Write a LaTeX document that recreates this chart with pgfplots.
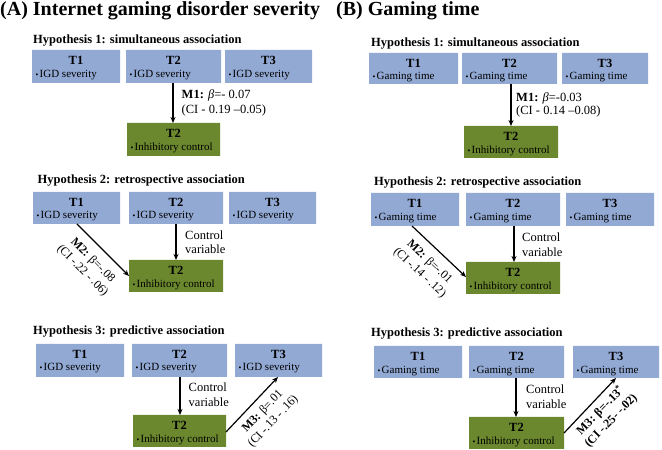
\documentclass[border=0pt]{standalone}
\usepackage{fontspec}
\setmainfont{Liberation Serif}
\usepackage{pgfplots}
\pgfplotsset{compat=1.18}
\usetikzlibrary{arrows.meta}
\definecolor{boxblue}{RGB}{146,169,212}
\definecolor{boxgreen}{RGB}{107,136,46}
\newcommand\fsz[2]{\fontsize{#1bp}{#2bp}\selectfont}
\newcommand\bul{{\fsz{8}{8}•}\hspace{1.2bp}}
\newcommand\bx[5]{\addplot[fill=#5,draw=none,no markers,forget plot] coordinates {(#1,#3)(#2,#3)(#2,#4)(#1,#4)(#1,#3)};}
\newcommand\arr[4]{\addplot[black,line width=1.2bp,no markers,forget plot,-{Stealth[length=6bp,width=5bp]}] coordinates {(#1,#2)(#3,#4)};}
\tikzset{
 tt/.style={anchor=base,inner sep=0pt,font=\fsz{12.5}{14}\bfseries},
 it/.style={anchor=base west,inner sep=0pt,font=\fsz{11}{12}},
 ht/.style={anchor=base west,inner sep=0pt,font=\fsz{12.5}{14}\bfseries},
 lb/.style={anchor=base west,inner sep=0pt,font=\fsz{12.5}{14}},
 rl/.style={inner sep=0pt,align=center,font=\fsz{12}{14.5}},
}
\begin{document}
\begin{tikzpicture}
\begin{axis}[width=662bp,height=450bp,scale only axis,hide axis,
 xmin=0,xmax=662,ymin=0,ymax=450,y dir=reverse,clip=false]
% ---------- Panel A ----------
% H1
\bx{32}{120}{50}{83}{boxblue}
\bx{126}{221}{50}{83}{boxblue}
\bx{225}{312}{50}{83}{boxblue}
\bx{127}{220}{123}{156}{boxgreen}
\arr{173}{83}{173}{123}
% H2
\bx{33}{120}{192}{224}{boxblue}
\bx{129}{223}{192}{224}{boxblue}
\bx{229}{316}{192}{224}{boxblue}
\bx{129}{223}{260}{292}{boxgreen}
\arr{176}{224}{176}{260}
\arr{77}{224}{129}{276}
% H3
\bx{36}{124}{344}{377}{boxblue}
\bx{132}{227}{344}{377}{boxblue}
\bx{235}{322}{344}{377}{boxblue}
\bx{133}{226}{415}{447}{boxgreen}
\arr{180}{377}{180}{415}
\arr{226}{432}{278}{377}
% ---------- Panel B ----------
% H1
\bx{369}{458}{53}{84}{boxblue}
\bx{462}{557}{53}{84}{boxblue}
\bx{562}{648}{53}{84}{boxblue}
\bx{464}{558}{126}{158}{boxgreen}
\arr{511}{84}{511}{126}
% H2
\bx{371}{459}{193}{226}{boxblue}
\bx{466}{560}{193}{226}{boxblue}
\bx{566}{654}{193}{226}{boxblue}
\bx{466}{560}{262}{294}{boxgreen}
\arr{514}{226}{514}{262}
\arr{412}{226}{466}{277}
% H3
\bx{374}{462}{346}{378}{boxblue}
\bx{469}{564}{346}{378}{boxblue}
\bx{573}{659}{346}{378}{boxblue}
\bx{469}{564}{417}{449}{boxgreen}
\arr{516}{378}{516}{417}
\arr{564}{433}{616}{378}
% invisible corners
\addplot[draw=none,no markers,forget plot] coordinates {(0,0)(662,450)};

% ---------- Text A ----------
\node[anchor=base west,inner sep=0pt,font=\fsz{20}{22}\bfseries] at (axis cs:0,15.5) {(A) Internet gaming disorder severity};
\node[ht] at (axis cs:33,43.5) {Hypothesis 1: simultaneous association};
\node[ht] at (axis cs:37.5,183.5) {Hypothesis 2: retrospective association};
\node[ht] at (axis cs:33,335) {Hypothesis 3: predictive association};
% H1 boxes
\node[tt] at (axis cs:76,64.5) {T1};
\node[it] at (axis cs:35.5,77.5) {\bul IGD severity};
\node[tt] at (axis cs:173.5,64.5) {T2};
\node[it] at (axis cs:129.5,77.5) {\bul IGD severity};
\node[tt] at (axis cs:268.5,64.5) {T3};
\node[it] at (axis cs:228.5,77.5) {\bul IGD severity};
\node[tt] at (axis cs:173.5,138) {T2};
\node[it] at (axis cs:130.5,151) {\bul Inhibitory control};
\node[lb] at (axis cs:181.5,99) {\textbf{M1:} \textit{β}=- 0.07};
\node[lb] at (axis cs:181.5,114) {(CI - 0.19 –0.05)};
% H2 boxes
\node[tt] at (axis cs:76.5,206.5) {T1};
\node[it] at (axis cs:36.5,219) {\bul IGD severity};
\node[tt] at (axis cs:176,206.5) {T2};
\node[it] at (axis cs:132.5,219) {\bul IGD severity};
\node[tt] at (axis cs:272.5,206.5) {T3};
\node[it] at (axis cs:232.5,219) {\bul IGD severity};
\node[tt] at (axis cs:176,275) {T2};
\node[it] at (axis cs:132.5,287.5) {\bul Inhibitory control};
\node[lb] at (axis cs:185,240) {Control};
\node[lb] at (axis cs:185,254) {variable};
\node[rl,rotate=-45] at (axis cs:87.5,265.5) {\textbf{M2:} β=-.08\\(CI -.22 - .06)};
% H3 boxes
\node[tt] at (axis cs:80,358.5) {T1};
\node[it] at (axis cs:39.5,371) {\bul IGD severity};
\node[tt] at (axis cs:179.5,358.5) {T2};
\node[it] at (axis cs:135.5,371) {\bul IGD severity};
\node[tt] at (axis cs:278.5,358.5) {T3};
\node[it] at (axis cs:238.5,371) {\bul IGD severity};
\node[tt] at (axis cs:179.5,430) {T2};
\node[it] at (axis cs:136.5,442.5) {\bul Inhibitory control};
\node[lb] at (axis cs:188.5,392) {Control};
\node[lb] at (axis cs:188.5,406.5) {variable};
\node[rl,rotate=46.5] at (axis cs:268,416.5) {\textbf{M3:} β=.01\\(CI -.13 - .16)};

% ---------- Text B ----------
\node[anchor=base west,inner sep=0pt,font=\fsz{20}{22}\bfseries] at (axis cs:336,15.5) {(B) Gaming time};
\node[ht] at (axis cs:371,47) {Hypothesis 1: simultaneous association};
\node[ht] at (axis cs:374,186) {Hypothesis 2: retrospective association};
\node[ht] at (axis cs:371,337) {Hypothesis 3: predictive association};
% H1
\node[tt] at (axis cs:413.5,67.5) {T1};
\node[it] at (axis cs:372.5,80) {\bul Gaming time};
\node[tt] at (axis cs:509.5,67.5) {T2};
\node[it] at (axis cs:465.5,80) {\bul Gaming time};
\node[tt] at (axis cs:605,67.5) {T3};
\node[it] at (axis cs:565.5,80) {\bul Gaming time};
\node[tt] at (axis cs:511,141) {T2};
\node[it] at (axis cs:467.5,153.5) {\bul Inhibitory control};
\node[lb] at (axis cs:516,101.5) {\textbf{M1:} \textit{β}=-0.03};
\node[lb] at (axis cs:516,115) {(CI - 0.14 –0.08)};
% H2
\node[tt] at (axis cs:415,208) {T1};
\node[it] at (axis cs:374.5,220.5) {\bul Gaming time};
\node[tt] at (axis cs:513,208) {T2};
\node[it] at (axis cs:469.5,220.5) {\bul Gaming time};
\node[tt] at (axis cs:610,208) {T3};
\node[it] at (axis cs:569.5,220.5) {\bul Gaming time};
\node[tt] at (axis cs:513,277) {T2};
\node[it] at (axis cs:469.5,289.5) {\bul Inhibitory control};
\node[lb] at (axis cs:522,242) {Control};
\node[lb] at (axis cs:522,256.5) {variable};
\node[rl,rotate=-43] at (axis cs:424.5,267.5) {\textbf{M2:} β=-.01\\(CI -.14 - .12)};
% H3
\node[tt] at (axis cs:418,361) {T1};
\node[it] at (axis cs:377.5,373.5) {\bul Gaming time};
\node[tt] at (axis cs:516.5,361) {T2};
\node[it] at (axis cs:472.5,373.5) {\bul Gaming time};
\node[tt] at (axis cs:616,361) {T3};
\node[it] at (axis cs:576.5,373.5) {\bul Gaming time};
\node[tt] at (axis cs:516.5,432) {T2};
\node[it] at (axis cs:472.5,444.5) {\bul Inhibitory control};
\node[lb] at (axis cs:526,394) {Control};
\node[lb] at (axis cs:526,408.5) {variable};
\node[rl,rotate=45.5,font=\fsz{12}{14.5}\bfseries] at (axis cs:605.5,415.5) {M3: β=-.13\textsuperscript{*}\\(CI -.25- -.02)};
\end{axis}
\pgfresetboundingbox
\path (current axis.south west) rectangle (current axis.north east);
\end{tikzpicture}
\end{document}
